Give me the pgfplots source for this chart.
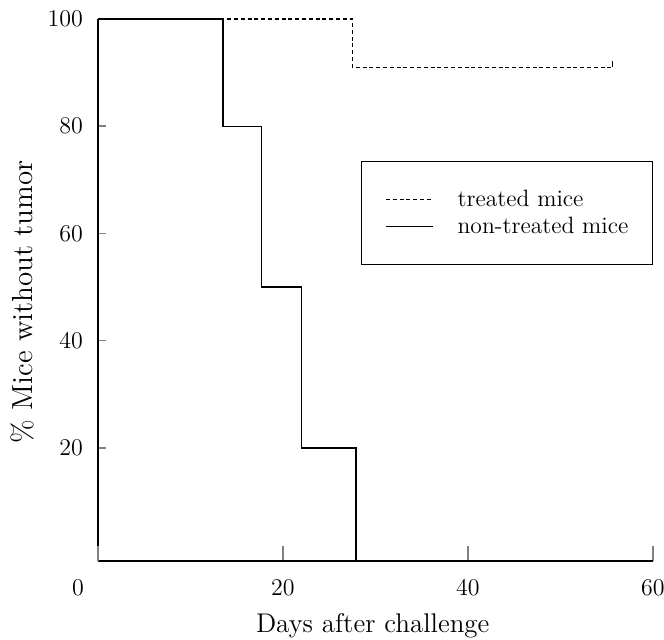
\documentclass[border=0pt]{standalone}
\usepackage{pgfplots}
\pgfplotsset{compat=1.18}

\begin{document}
\begin{tikzpicture}
\begin{axis}[
    scale only axis,
    width=277.5pt,
    height=271pt,
    xmin=0, xmax=60,
    ymin=-1.1, ymax=100,
    clip=false,
    axis x line=bottom,
    axis y line=left,
    axis line style={-, line width=0.8pt},
    xtick={20,40,60},
    ytick={20,40,60,80,100},
    extra x ticks={0},
    extra x tick style={xticklabel style={xshift=-10pt}, major tick length=0pt},
    tick align=inside,
    xtick style={line width=0.8pt, /pgfplots/major tick length=7.5pt},
    ytick style={line width=0.8pt, /pgfplots/major tick length=4pt},
    tick label style={font=\fontsize{12}{14}\selectfont},
    xticklabel style={yshift=-6pt},
    yticklabel style={xshift=-4pt},
    xlabel={Days after challenge},
    ylabel={\% Mice without tumor},
    xlabel style={font=\fontsize{13.5}{16}\selectfont,
        at={(axis description cs:0.495,-0.1328)}, anchor=base},
    ylabel style={font=\fontsize{14.5}{17}\selectfont,
        at={(axis description cs:-0.137,0.478)}, anchor=center, rotate=0},
    legend style={
        at={(axis cs:60,73.5)}, anchor=north east,
        draw=black, line width=0.6pt,
        inner xsep=12pt, inner ysep=14pt,
        nodes={inner sep=0pt},
        column sep=12pt, row sep=3.9pt,
        font=\fontsize{11.8}{13}\selectfont,
    },
    legend cell align=left,
    legend image code/.code={\draw[#1] (0pt,0pt) -- (23.5pt,0pt);},
]
% treated mice
\addplot[const plot, black, line width=0.7pt, dash pattern=on 2pt off 1.4pt]
    coordinates {(0,100) (27.5,91) (55.6,91)};
\addlegendentry{treated mice}
% non-treated mice
\addplot[const plot, black, line width=0.7pt]
    coordinates {(0,100) (13.5,80) (17.7,50) (22,20) (27.9,-1.1)};
\addlegendentry{non-treated mice}
% censor tick at end of treated curve
\addplot[black, line width=0.7pt, forget plot]
    coordinates {(55.6,91) (55.6,92.2)};
\end{axis}
\pgfresetboundingbox
\path ([shift={(-49pt,-39.5pt)}]current axis.south west)
    rectangle ([shift={(5.5pt,9.5pt)}]current axis.north east);
\end{tikzpicture}
\end{document}
